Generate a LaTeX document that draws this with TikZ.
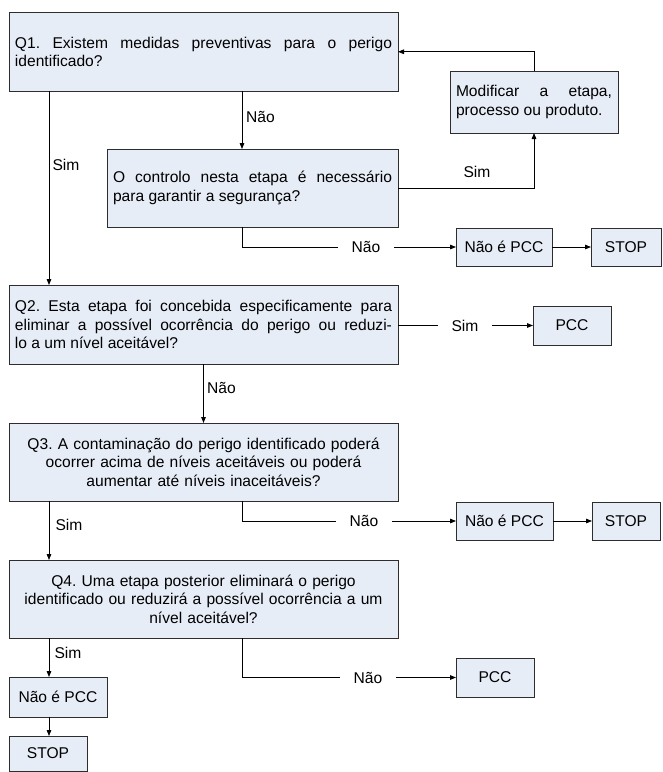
\documentclass[tikz,border=0pt]{standalone}
\usepackage{fontspec}
\setmainfont{Liberation Sans}
\usetikzlibrary{arrows.meta,calc}
\definecolor{boxfill}{RGB}{231,237,247}
\definecolor{boxline}{RGB}{45,45,45}
\frenchspacing
\begin{document}
\begin{tikzpicture}[x=1pt,y=-1pt,
  font=\fontsize{15.6}{18.6}\selectfont,
  box/.style={draw=boxline, fill=boxfill, line width=0.9pt, inner xsep=6pt, inner ysep=0pt, outer sep=0pt},
  jbox/.style={box, align=justify},
  cbox/.style={box, align=center},
  lbl/.style={inner xsep=14pt, inner ysep=2pt, outer sep=0pt},
  plain/.style={inner sep=1pt},
  con/.style={line width=0.8pt, draw=black},
  arr/.style={con, -{Triangle[length=6pt,width=4.6pt]}}]
\useasboundingbox (0,0) rectangle (663,772);
\coordinate (colL) at (49,0);
\coordinate (colA) at (242,0);

% boxes
\node[jbox, minimum width=389pt, minimum height=78.5pt, text width=377pt] (q1) at (203.5,51.75)
  {Q1. Existem medidas preventivas para o perigo\linebreak identificado?};
\node[jbox, minimum width=168pt, minimum height=62pt, text width=156pt] (mod) at (534,102)
  {Modificar a etapa,\linebreak processo ou produto.};
\node[jbox, minimum width=291pt, minimum height=78pt, text width=279pt] (ctrl) at (252.5,188)
  {O controlo nesta etapa é necessário\linebreak para garantir a segurança?};
\node[box, minimum width=96pt, minimum height=38pt] (npcc1) at (504,247) {Não é PCC};
\node[box, minimum width=70pt, minimum height=38pt] (stop1) at (626,247) {STOP};

\node[jbox, minimum width=389pt, minimum height=79pt, text width=377pt] (q2) at (203.5,324.5)
  {Q2. Esta etapa foi concebida especificamente para\linebreak eliminar a possível ocorrência do perigo ou reduzi-\linebreak lo a um nível aceitável?};
\node[box, minimum width=78pt, minimum height=39pt] (pcc1) at (572,325.5) {PCC};

\node[cbox, minimum width=389pt, minimum height=78pt, text width=377pt] (q3) at (203.5,462)
  {Q3. A contaminação do perigo identificado poderá\\ ocorrer acima de níveis aceitáveis ou poderá\\ aumentar até níveis inaceitáveis?};
\node[box, minimum width=97pt, minimum height=38pt] (npcc2) at (504.5,521) {Não é PCC};
\node[box, minimum width=68pt, minimum height=38pt] (stop2) at (626,521) {STOP};

\node[cbox, minimum width=389pt, minimum height=78pt, text width=377pt] (q4) at (203.5,599)
  {Q4. Uma etapa posterior eliminará o perigo\\ identificado ou reduzirá a possível ocorrência a um\\ nível aceitável?};
\node[box, minimum width=78pt, minimum height=39pt] (pcc2) at (495,677.5) {PCC};
\node[box, minimum width=98pt, minimum height=40pt] (npcc3) at (58,697) {Não é PCC};
\node[box, minimum width=78pt, minimum height=35pt] (stop3) at (48,753.5) {STOP};

% labels
\node[plain, anchor=west] (naoA) at (245,117) {Não};
\node[plain] (simA) at (66,165) {Sim};
\node[plain] (simB) at (477,172) {Sim};
\node[lbl] (naoB) at (366,247) {Não};
\node[lbl] (simC) at (465,325.5) {Sim};
\node[plain, anchor=west] (naoC) at (206,388) {Não};
\node[lbl] (naoD) at (364,521) {Não};
\node[plain] (simD) at (69,525) {Sim};
\node[lbl] (naoE) at (368,677.5) {Não};
\node[plain] (simE) at (68,653) {Sim};

% connectors
\draw[arr] (q1.south -| colA) -- (ctrl.north -| colA);
\draw[arr] (q1.south -| colL) -- (q2.north -| colL);
\draw[arr] (ctrl.east) -- (ctrl.east -| mod.south) -- (mod.south);
\draw[arr] (mod.north) |- (q1.east);
\draw[con] (ctrl.south -| colA) |- (naoB.west);
\draw[arr] (naoB.east) -- (npcc1.west);
\draw[arr] (npcc1.east) -- (stop1.west);

\draw[con] (q2.east |- simC) -- (simC.west);
\draw[arr] (simC.east) -- (pcc1.west);
\draw[arr] (q2.south) -- (q3.north);

\draw[con] (q3.south -| colA) |- (naoD.west);
\draw[arr] (naoD.east) -- (npcc2.west);
\draw[arr] (npcc2.east) -- (stop2.west);
\draw[arr] (q3.south -| colL) -- (q4.north -| colL);

\draw[con] (q4.south -| colA) |- (naoE.west);
\draw[arr] (naoE.east) -- (pcc2.west);
\draw[arr] (q4.south -| colL) -- (npcc3.north -| colL);
\draw[arr] (npcc3.south -| colL) -- (stop3.north -| colL);
\end{tikzpicture}
\end{document}
